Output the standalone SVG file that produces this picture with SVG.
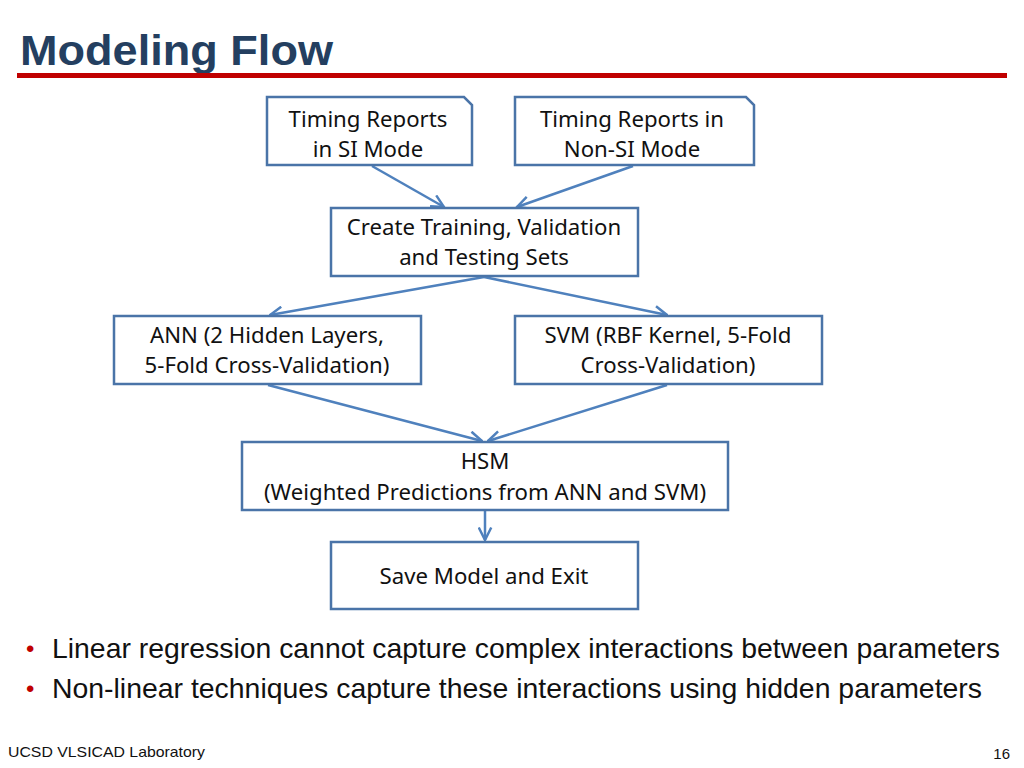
<svg xmlns="http://www.w3.org/2000/svg" width="1024" height="768" viewBox="0 0 1024 768">
<defs>
<style>
.box{fill:#fff;stroke:#4A74A8;stroke-width:2.5}
.lbl{font-family:"Noto Sans","Open Sans",sans-serif;font-size:22.2px;fill:#111;text-anchor:middle}
.con{stroke:#4F81BD;stroke-width:2.5;fill:none;marker-end:url(#ah)}
.bul{font-family:"Liberation Sans",Arial,sans-serif;font-size:28px;fill:#111}
</style>
<marker id="ah" viewBox="0 0 12 12" refX="11" refY="6" markerWidth="6" markerHeight="6" markerUnits="strokeWidth" orient="auto">
<path d="M1,1 L11,6 L1,11" fill="none" stroke="#4F81BD" stroke-width="2"/>
</marker>
</defs>
<rect width="1024" height="768" fill="#fff"/>
<text x="20" y="65" font-family="'Liberation Sans',Arial,sans-serif" font-weight="bold" font-size="43" fill="#243F60" textLength="313" lengthAdjust="spacingAndGlyphs">Modeling Flow</text>
<rect x="17" y="73" width="990" height="5" fill="#C00000"/>

<g id="connectors">
<line class="con" x1="372" y1="166" x2="444" y2="207"/>
<line class="con" x1="633" y1="166" x2="517" y2="207"/>
<line class="con" x1="484" y1="277" x2="270" y2="315"/>
<line class="con" x1="484" y1="277" x2="667" y2="315"/>
<line class="con" x1="268" y1="385" x2="482" y2="441"/>
<line class="con" x1="667" y1="385" x2="488" y2="441"/>
<line class="con" x1="485" y1="511" x2="485" y2="540"/>
</g>

<g id="n1">
<path class="box" d="M267,97 H464 L472,105 V165 H267 Z"/>
<text class="lbl" x="368" y="127">Timing Reports</text>
<text class="lbl" x="368" y="157">in SI Mode</text>
</g>
<g id="n2">
<path class="box" d="M515,97 H746 L754,105 V165 H515 Z"/>
<text class="lbl" x="632" y="127">Timing Reports in</text>
<text class="lbl" x="632" y="157">Non-SI Mode</text>
</g>
<g id="n3">
<rect class="box" x="331" y="208" width="307" height="68"/>
<text class="lbl" x="484" y="235">Create Training, Validation</text>
<text class="lbl" x="484" y="265">and Testing Sets</text>
</g>
<g id="n4">
<rect class="box" x="114" y="316" width="307" height="68"/>
<text class="lbl" x="267" y="343">ANN (2 Hidden Layers,</text>
<text class="lbl" x="267" y="373">5-Fold Cross-Validation)</text>
</g>
<g id="n5">
<rect class="box" x="515" y="316" width="307" height="68"/>
<text class="lbl" x="668" y="343">SVM (RBF Kernel, 5-Fold</text>
<text class="lbl" x="668" y="373">Cross-Validation)</text>
</g>
<g id="n6">
<rect class="box" x="242" y="442" width="486" height="68"/>
<text class="lbl" x="485" y="469">HSM</text>
<text class="lbl" x="485" y="500">(Weighted Predictions from ANN and SVM)</text>
</g>
<g id="n7">
<rect class="box" x="331" y="542" width="307" height="67"/>
<text class="lbl" x="484" y="584">Save Model and Exit</text>
</g>

<text x="26" y="657" font-family="'Liberation Sans',Arial,sans-serif" font-size="24" fill="#C00000">•</text>
<text class="bul" x="52" y="658" textLength="948" lengthAdjust="spacingAndGlyphs">Linear regression cannot capture complex interactions between parameters</text>
<text x="26" y="697" font-family="'Liberation Sans',Arial,sans-serif" font-size="24" fill="#C00000">•</text>
<text class="bul" x="52" y="698" textLength="930" lengthAdjust="spacingAndGlyphs">Non-linear techniques capture these interactions using hidden parameters</text>

<text x="8" y="757" font-family="'Liberation Sans',Arial,sans-serif" font-size="15" fill="#111" textLength="197" lengthAdjust="spacingAndGlyphs">UCSD VLSICAD Laboratory</text>
<text x="1010" y="759" font-family="'Liberation Sans',Arial,sans-serif" font-size="15" fill="#111" text-anchor="end">16</text>
</svg>
